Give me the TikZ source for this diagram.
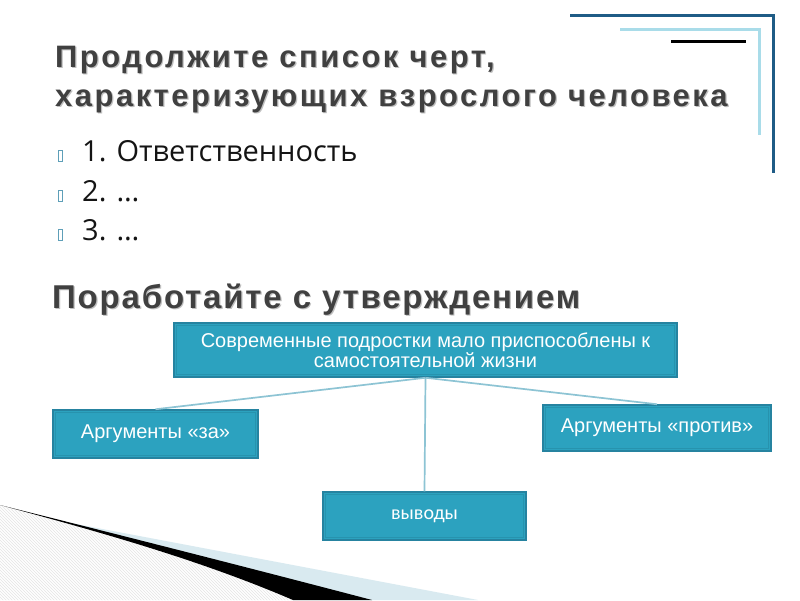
\documentclass[tikz,border=0pt]{standalone}
\usepackage{fontspec}
\setmainfont{Liberation Sans}
\newfontfamily\titlefont[LetterSpace=8]{Liberation Sans}
\newfontfamily\headfont[LetterSpace=5.5]{Liberation Sans}
\newfontfamily\listfont{Open Sans}
\newfontfamily\calfont{Carlito}
\usetikzlibrary{patterns}
\definecolor{boxfill}{HTML}{2CA2BF}
\definecolor{boxedge}{HTML}{2683A0}
\definecolor{boxinner}{HTML}{2793AE}
\definecolor{linkc}{HTML}{8DC4D4}
\definecolor{darkblue}{HTML}{1F5C86}
\definecolor{lightblue}{HTML}{A9DCE9}
\definecolor{titlec}{HTML}{404040}
\definecolor{bulletc}{HTML}{5E9FB8}
\definecolor{wedgeblue}{HTML}{D9EAF0}
\tikzset{
  titletext/.style={anchor=base west, inner sep=0pt, font=\titlefont\bfseries\fontsize{31}{31}\selectfont, text=titlec},
  titleshadow/.style={titletext, text=black!25},
  headtext/.style={anchor=base west, inner sep=0pt, font=\headfont\bfseries\fontsize{33}{33}\selectfont, text=titlec},
  headshadow/.style={headtext, text=black!25},
  listtext/.style={anchor=base west, inner sep=0pt, font=\listfont\fontsize{29}{29}\selectfont, text=black!92},
  bulletbox/.style={rectangle, draw=bulletc, line width=0.8pt, minimum width=4pt, minimum height=11pt, inner sep=0pt},
  diabox/.style={rectangle, fill=boxfill, draw=boxedge, line width=1.5pt, text=white, inner sep=0pt, align=center,
    font=\fontsize{20}{20}\selectfont,
    path picture={\draw[boxinner, line width=1pt] ([shift={(2.8pt,-2.8pt)}]path picture bounding box.north west) rectangle ([shift={(-2.8pt,2.8pt)}]path picture bounding box.south east);}},
  link/.style={draw=linkc, line width=1.7pt},
  deco/.style={line width=3pt}
}
\begin{document}
\begin{tikzpicture}[x=1pt, y=-1pt]
\useasboundingbox (0,0) rectangle (800,600);
\fill[white] (0,0) rectangle (800,600);

% bottom-left decoration
\fill[pattern=north west lines, pattern color=black!10] (0,505) .. controls (100,532) and (200,560) .. (293,600) -- (0,600) -- cycle;
\fill[wedgeblue] (60,521) -- (478,600) -- (370,600) .. controls (250,570) and (150,545) .. (60,521) -- cycle;
\fill[black] (0,505) .. controls (120,535) and (250,568) .. (372,600) -- (293,600) .. controls (200,560) and (100,532) .. (0,505) -- cycle;

% top-right decoration
\coordinate (d1a) at (570,15.5);
\coordinate (d1b) at (773,15.5);
\coordinate (d1c) at (773,173);
\draw[deco, darkblue] (d1a) -- (d1b) -- (d1c);
\coordinate (d2a) at (620,29);
\coordinate (d2b) at (759,29);
\coordinate (d2c) at (759,135);
\draw[deco, lightblue] (d2a) -- (d2b) -- (d2c);
\coordinate (d3a) at (671,41.5);
\coordinate (d3b) at (746,41.5);
\draw[deco, black] (d3a) -- (d3b);

% title
\node[titleshadow] (t1s) at (56.2,68.2) {Продолжите список черт,};
\node[titleshadow] (t2s) at (56.2,107.2) {характеризующих взрослого человека};
\node[titletext] (t1) at (55,67) {Продолжите список черт,};
\node[titletext] (t2) at (55,106) {характеризующих взрослого человека};

% list
\node[bulletbox] (b1) at (60.3,156) {};
\node[bulletbox] (b2) at (60.3,196) {};
\node[bulletbox] (b3) at (60.3,234.5) {};
\node[listtext] (l1) at (82,161.7) {1. Ответственность};
\node[listtext] (l2) at (82,201.7) {2. \dots};
\node[listtext] (l3) at (82,240) {3. \dots};

% heading 2
\node[headshadow] (h2s) at (53.2,309.5) {Поработайте с утверждением};
\node[headtext] (h2) at (52,308.3) {Поработайте с утверждением};

% diagram
\node[diabox, minimum width=503pt, minimum height=54pt] (top) at (425.5,350) {Современные подростки мало приспособлены к\\самостоятельной жизни};
\node[diabox, minimum width=205pt, minimum height=48pt] (za) at (155.5,434) {Аргументы «за»};
\node[diabox, minimum width=228pt, minimum height=46pt] (pr) at (657,428) {Аргументы «против»};
\node[diabox, minimum width=203pt, minimum height=48pt, font=\calfont\fontsize{20}{20}\selectfont] (vy) at (424.5,516) {выводы};

\draw[link] (top.south) -- (za.north);
\draw[link] (top.south) -- (pr.north);
\draw[link] (top.south) -- (vy.north);
\end{tikzpicture}
\end{document}
